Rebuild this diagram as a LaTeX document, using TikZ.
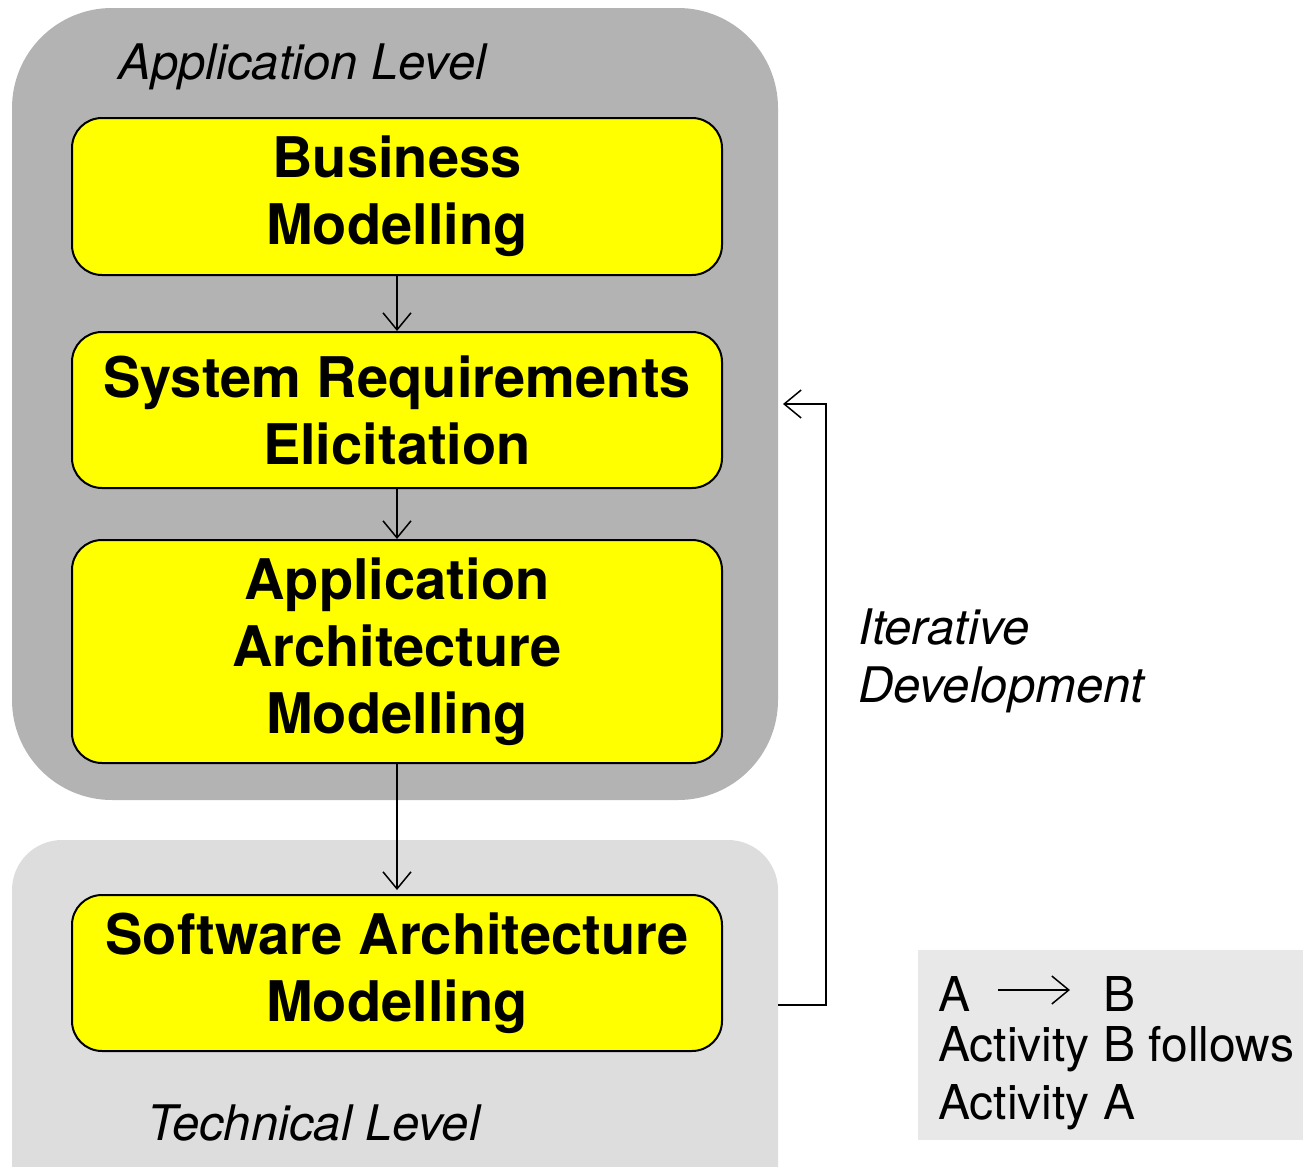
\documentclass[tikz,border=0pt]{standalone}
\usepackage{fontspec}
\setmainfont{TeX Gyre Heros}
\usetikzlibrary{arrows.meta}

\definecolor{applevel}{HTML}{B3B3B3}
\definecolor{techlevel}{HTML}{DDDDDD}
\definecolor{legendgray}{HTML}{E8E8E8}
\definecolor{activity}{HTML}{FFFF00}

\tikzset{
	activity/.style={draw=black, line width=1pt, fill=activity, rounded corners=15pt,
		minimum width=325pt, align=center, inner sep=0pt,
		font=\fontsize{28}{33.5}\selectfont\bfseries},
	levellabel/.style={anchor=west, inner sep=0pt, font=\fontsize{24.5}{29}\selectfont\itshape},
	legendtext/.style={inner sep=0pt, font=\fontsize{24}{29}\selectfont},
	follows/.style={line width=0.75pt, -{Straight Barb[length=8.5pt,width=14pt,line width=0.75pt]}},
}

\begin{document}
\begin{tikzpicture}[x=0.5pt, y=-0.5pt]
		\useasboundingbox (0,0) rectangle (1303,1167);
		\clip (0,0) rectangle (1303,1167);
		
		% draw level backgrounds
		\fill[applevel, rounded corners=50pt] (12,8) rectangle (778,800);
		\fill[techlevel, rounded corners=25pt] (12,840) rectangle (778,1220);
		\node[levellabel] (applabel) at (118,67) {Application Level};
		\node[levellabel] (techlabel) at (147,1123) {Technical Level};
		
		% draw activities
		\node[activity, minimum height=78.5pt] (business) at (397,196.5) {Business\\Modelling};
		\node[activity, minimum height=78pt] (sysreq) at (397,410) {System Requirements\\Elicitation};
		\node[activity, minimum height=111.5pt] (apparch) at (397,651.5) {Application\\Architecture\\Modelling};
		\node[activity, minimum height=78pt] (swarch) at (397,973) {Software Architecture\\Modelling};
		
		% draw arrows between activities
		\draw[follows] (business) -- (sysreq);
		\draw[follows] (sysreq) -- (apparch);
		\draw[follows] (apparch) -- (swarch.north |- 0,890);
		
		% draw iteration loop
		\coordinate (loopstart) at (778,1005);
		\coordinate (loopend) at (783,404);
		\draw[follows] (loopstart) -| (826,404) -- (loopend);
		\node[levellabel, align=left] (iterative) at (858,661) {Iterative\\Development};
		
		% draw legend
		\fill[legendgray] (918,950) rectangle (1303,1140);
		\node[legendtext, anchor=west] (legendA) at (938,994) {A};
		\node[legendtext, anchor=west] (legendB) at (1103,994) {B};
		\draw[follows, line width=0.6pt] (998,990) -- (1070,990);
		\node[legendtext, anchor=north west, align=left] (legendnote) at (938,1026) {Activity B follows\\Activity A};
\end{tikzpicture}
\end{document}
